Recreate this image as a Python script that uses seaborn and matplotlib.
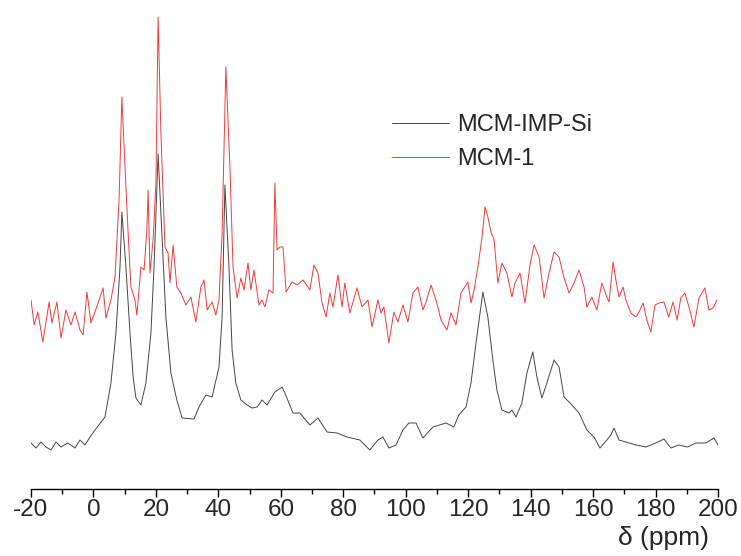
"""13C CP-MAS NMR spectra of MCM-IMP-Si and MCM-1."""

import matplotlib.pyplot as plt
import seaborn as sns
import pandas as pd
from matplotlib.ticker import MultipleLocator

# MCM-IMP-Si (black trace): chemical shift (ppm) and intensity (a.u.)
black_ppm = [-20.0, -18.4, -16.8, -15.2, -13.6, -12.0, -10.4, -8.2, -5.9, -4.3,
             -2.7, -1.1, 0.5, 3.7, 5.6, 7.2, 8.5, 9.1, 10.4, 11.7,
             12.7, 13.6, 15.2, 16.8, 18.4, 19.4, 20.7, 21.9, 23.2, 24.8,
             26.7, 28.4, 32.2, 33.8, 36.0, 38.0, 40.2, 41.2, 42.1, 43.4,
             44.4, 45.6, 47.2, 49.2, 50.8, 52.4, 54.0, 55.6, 58.1, 60.4,
             61.3, 63.9, 66.1, 69.3, 71.9, 74.8, 78.0, 81.2, 85.3, 88.5,
             91.1, 92.7, 94.6, 96.9, 99.1, 101.0, 103.3, 105.5, 108.7, 112.9,
             115.4, 117.0, 119.3, 120.9, 122.5, 124.7, 126.3, 127.9, 129.2, 130.8,
             133.1, 134.0, 135.3, 137.2, 138.8, 140.7, 142.0, 143.6, 145.2, 147.5,
             149.1, 150.7, 152.6, 155.5, 158.0, 160.3, 162.2, 164.4, 165.7, 166.7,
             168.3, 170.5, 173.7, 176.9, 180.1, 182.7, 184.9, 187.4, 190.3, 192.9,
             196.1, 198.7, 200.0]
black_int = [41, 36, 42, 37, 34, 42, 37, 41, 36, 44,
             39, 47, 54, 67, 101, 151, 217, 272, 217, 151,
             107, 86, 79, 101, 151, 217, 330, 251, 167, 111,
             84, 66, 65, 77, 89, 87, 117, 167, 299, 217,
             134, 101, 84, 79, 76, 77, 84, 79, 92, 97,
             91, 71, 71, 59, 66, 52, 51, 47, 44, 34,
             44, 47, 36, 39, 54, 61, 61, 46, 57, 61,
             57, 69, 77, 101, 141, 192, 167, 124, 94, 74,
             71, 74, 67, 81, 111, 132, 107, 86, 101, 124,
             117, 87, 81, 71, 54, 47, 36, 44, 49, 56,
             44, 42, 39, 37, 41, 45, 36, 39, 37, 41,
             41, 46, 39]

# MCM-1 (red trace)
red_ppm = [-20.0, -19.0, -17.8, -16.2, -14.2, -13.3, -11.7, -10.4, -8.8, -7.2,
           -5.9, -4.3, -3.3, -2.1, -0.8, 1.5, 3.1, 4.0, 5.6, 6.9,
           8.2, 9.1, 10.1, 11.1, 12.0, 13.3, 13.9, 15.2, 16.2, 17.1,
           17.5, 18.1, 19.1, 20.0, 20.7, 21.6, 22.9, 23.9, 24.5, 25.5,
           26.7, 28.0, 29.6, 31.2, 32.8, 34.4, 35.4, 36.4, 38.0, 39.2,
           40.2, 41.2, 42.4, 43.7, 44.7, 46.0, 47.2, 48.2, 49.5, 50.4,
           51.4, 53.0, 54.0, 54.9, 56.2, 57.5, 58.1, 58.8, 59.7, 60.7,
           61.7, 63.6, 65.2, 67.1, 69.3, 70.6, 71.9, 73.2, 74.5, 75.7,
           76.7, 78.3, 79.6, 80.5, 82.1, 84.4, 86.0, 87.9, 89.2, 91.1,
           92.1, 93.0, 94.6, 96.2, 97.5, 99.1, 100.7, 102.3, 103.9, 105.5,
           106.5, 108.1, 109.7, 111.3, 113.2, 114.5, 116.1, 117.7, 119.9, 120.9,
           121.9, 123.1, 124.4, 125.4, 126.3, 127.3, 128.3, 129.5, 130.8, 132.4,
           134.0, 135.0, 136.6, 138.2, 139.8, 141.1, 142.7, 144.3, 145.9, 147.5,
           149.1, 150.7, 152.3, 153.9, 155.5, 157.1, 158.0, 159.6, 161.2, 162.8,
           164.4, 165.1, 166.4, 167.3, 168.3, 169.6, 170.5, 172.1, 173.7, 174.7,
           176.0, 177.2, 178.5, 179.8, 181.1, 182.7, 184.2, 185.6, 186.9, 188.1,
           189.4, 190.7, 192.3, 193.9, 195.8, 197.1, 198.4, 199.7]
red_int = [184, 159, 172, 142, 182, 161, 182, 146, 174, 159,
           172, 154, 149, 192, 161, 181, 196, 166, 184, 207,
           284, 387, 317, 251, 197, 184, 169, 217, 214, 254,
           294, 211, 244, 301, 467, 351, 237, 231, 201, 239,
           197, 191, 179, 187, 162, 197, 204, 174, 182, 169,
           184, 251, 417, 317, 217, 186, 206, 194, 221, 194,
           214, 179, 184, 177, 194, 191, 301, 234, 237, 237,
           192, 202, 199, 204, 194, 219, 211, 181, 167, 191,
           177, 209, 177, 201, 171, 196, 177, 184, 157, 184,
           171, 177, 141, 172, 162, 179, 162, 191, 197, 174,
           182, 199, 184, 164, 154, 171, 159, 191, 202, 181,
           194, 217, 246, 277, 267, 252, 244, 201, 221, 211,
           187, 201, 211, 181, 219, 239, 227, 186, 211, 232,
           227, 206, 191, 201, 214, 197, 177, 187, 174, 201,
           187, 182, 222, 204, 187, 197, 184, 171, 167, 172,
           181, 164, 152, 179, 181, 182, 167, 182, 164, 186,
           191, 177, 157, 186, 196, 174, 176, 184]

series_names = ["MCM-IMP-Si", "MCM-1"]
series_colors = ["#454545", "#f23a3a"]
x_ticks = list(range(-20, 201, 20))


def plot_nmr() -> None:
    sns.set_style("white")
    plt.rcParams["font.family"] = ["Liberation Sans", "DejaVu Sans"]

    df_black = pd.DataFrame({"ppm": black_ppm, "intensity": black_int})
    df_red = pd.DataFrame({"ppm": red_ppm, "intensity": red_int})

    fig = plt.figure(figsize=(7.41, 5.56), dpi=100)
    axis_y = 489  # pixel row of the x axis line
    ax = fig.add_axes([31 / 741, (556 - axis_y) / 556, 687 / 741, axis_y / 556])

    sns.lineplot(data=df_black, x="ppm", y="intensity", color=series_colors[0],
                 linewidth=0.7, estimator=None, label=series_names[0], ax=ax)
    sns.lineplot(data=df_red, x="ppm", y="intensity", color=series_colors[1],
                 linewidth=0.7, estimator=None, label=series_names[1], ax=ax)

    ax.set_xlim(-20, 200)
    ax.set_ylim(484 - axis_y, 484)
    ax.set_xticks(x_ticks)
    ax.set_xticklabels([str(t) for t in x_ticks])
    ax.xaxis.set_minor_locator(MultipleLocator(10))
    ax.tick_params(axis="x", which="major", direction="out", length=6, width=1,
                   pad=1, labelsize=17.5, color="black", bottom=True)
    ax.tick_params(axis="x", which="minor", direction="out", length=3.5, width=1,
                   color="black", bottom=True)
    ax.set_yticks([])
    ax.set_ylabel("")
    ax.set_xlabel("δ (ppm)", fontsize=19, ha="right")
    ax.xaxis.set_label_coords((709 - 31) / 687, -(526 - axis_y) / axis_y)

    for side in ["top", "right", "left"]:
        ax.spines[side].set_visible(False)
    ax.spines["bottom"].set_color("black")
    ax.spines["bottom"].set_linewidth(1)

    ax.legend(loc="upper left", bbox_to_anchor=(392 / 741, 1 - 114 / 556),
              bbox_transform=fig.transFigure, frameon=False, fontsize=17,
              handlelength=2.4, handletextpad=0.35, labelspacing=0.5,
              borderpad=0, borderaxespad=0)

    fig.savefig("out.png", dpi=100)
    plt.close(fig)


if __name__ == "__main__":
    plot_nmr()
